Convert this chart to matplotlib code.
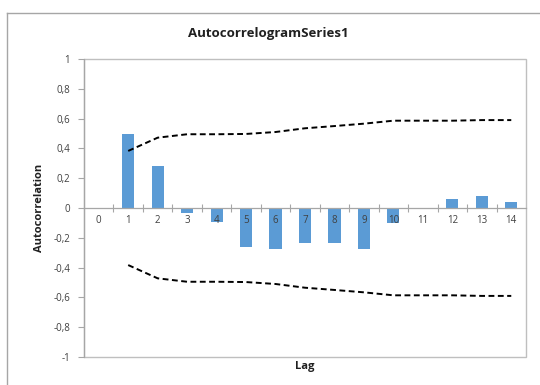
import matplotlib

matplotlib.use("Agg")
import matplotlib.pyplot as plt
from matplotlib.lines import Line2D
from matplotlib.patches import Rectangle
from matplotlib.ticker import FuncFormatter, FixedLocator

# data
lags = [1, 2, 3, 4, 5, 6, 7, 8, 9, 10, 11, 12, 13, 14]
acf = [0.50, 0.285, -0.035, -0.095, -0.26, -0.273, -0.237, -0.233, -0.273, -0.103, 0.0, 0.058, 0.078, 0.042]
upper_ci = [0.383, 0.472, 0.495, 0.495, 0.497, 0.51, 0.535, 0.55, 0.566, 0.586, 0.586, 0.586, 0.59, 0.59]
lower_ci = [-v for v in upper_ci]
categories = [str(i) for i in range(15)]

BAR = "#5B9BD5"
GRID = "#A6A6A6"
TXT = "#404040"

plt.rcParams["font.family"] = ["Open Sans", "DejaVu Sans"]

fig = plt.figure(figsize=(5.4, 3.85), dpi=100)
ax = fig.add_axes([84 / 540, 28 / 385, 442 / 540, 298 / 385])

ax.bar(lags, acf, width=0.41, color=BAR, zorder=1)
ax.plot(lags, upper_ci, color="black", lw=1.4, ls=(0, (3, 1.8)), zorder=3)
ax.plot(lags, lower_ci, color="black", lw=1.4, ls=(0, (3, 1.8)), zorder=3)

ax.set_xlim(-0.5, len(categories) - 0.5)
ax.set_ylim(-1, 1)

# y axis
ax.set_yticks([i / 10 for i in range(-10, 11, 2)])
ax.yaxis.set_major_formatter(
    FuncFormatter(lambda v, _: ("%g" % round(v, 1)).replace(".", ","))
)
ax.tick_params(axis="y", direction="out", length=4, width=0.8, color=GRID,
               labelcolor=TXT, labelsize=7, pad=6)

# x axis crosses at zero
for s in ("top", "right", "bottom"):
    ax.spines[s].set_visible(False)
ax.spines["left"].set_color(GRID)
ax.spines["left"].set_linewidth(0.9)
ax.spines["bottom"].set_visible(True)
ax.spines["bottom"].set_position(("data", 0))
ax.spines["bottom"].set_color(GRID)
ax.spines["bottom"].set_linewidth(0.9)
ax.set_xticks(range(len(categories)))
ax.set_xticklabels(categories)
ax.xaxis.set_minor_locator(FixedLocator([i + 0.5 for i in range(len(categories) - 1)]))
ax.tick_params(axis="x", which="major", length=0, labelcolor=TXT, labelsize=7, pad=5)
ax.tick_params(axis="x", which="minor", direction="inout", length=6, width=0.8, color=GRID)

# plot area border
ax.add_patch(Rectangle((0, 0), 1, 1, transform=ax.transAxes, fill=False,
                       edgecolor="#BFBFBF", lw=1.0, clip_on=False, zorder=0.5))

fig.text(268 / 540, 1 - 33 / 385, "AutocorrelogramSeries1", ha="center", va="center",
         fontsize=9.5, fontweight="bold", color="#202020")
fig.text(40 / 540, 1 - 208 / 385, "Autocorrelation", rotation=90, ha="center", va="center",
         fontsize=8, fontweight="bold", color="#202020")
fig.text(305 / 540, 1 - 367 / 385, "Lag", ha="center", va="center",
         fontsize=8, fontweight="bold", color="#202020")

# outer chart border (left and top edges visible)
fig.add_artist(Line2D([7 / 540, 7 / 540], [0, 1 - 13 / 385], color=GRID, lw=1.0))
fig.add_artist(Line2D([7 / 540, 1], [1 - 13 / 385, 1 - 13 / 385], color=GRID, lw=1.0))

fig.savefig("out.png", dpi=100)
